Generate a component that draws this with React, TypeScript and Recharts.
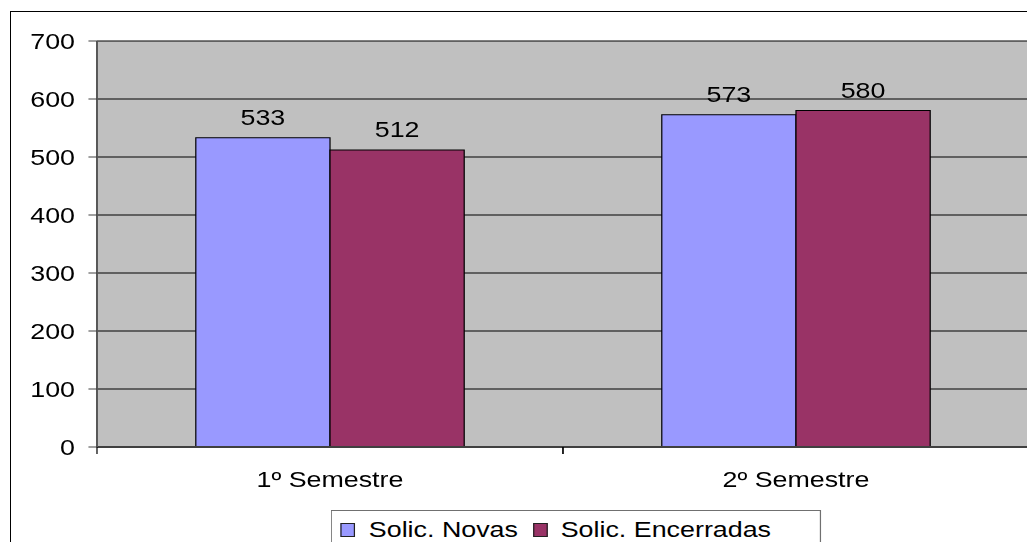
import React from "react"
import { Bar, BarChart, CartesianGrid, LabelList, Legend, XAxis, YAxis } from "recharts"

// values
const semesters = ["1º Semestre", "2º Semestre"]
const solicNovas = [533, 573]
const solicEncerradas = [512, 580]
const yTicks = [0, 100, 200, 300, 400, 500, 600, 700]

const seriesNames = ["Solic. Novas", "Solic. Encerradas"]
const seriesColors = ["#9999FF", "#993366"]

const data = semesters.map((name, i) => ({
  name,
  novas: solicNovas[i],
  encerradas: solicEncerradas[i],
}))

// the original picture is stretched sideways, so the chart is drawn narrower and scaled
const STRETCH = 1.22
const FONT = '"Liberation Sans", Arial, sans-serif'

const CategoryTick = (props: any) => {
  const { x, y, payload } = props
  const half = payload && typeof payload.offset === "number" ? payload.offset : 0
  const top = y - 24
  return (
    <g>
      <line x1={x - half} x2={x - half} y1={top} y2={top + 7} stroke="#000" strokeWidth={1} />
      <line x1={x + half} x2={x + half} y1={top} y2={top + 7} stroke="#000" strokeWidth={1} />
      <text x={x} y={y} dy="0.71em" textAnchor="middle" fill="#000" fontSize={22} fontFamily={FONT}>
        {payload.value}
      </text>
    </g>
  )
}

const LegendBox = () => (
  <div
    style={{
      border: "1px solid #707070",
      padding: "6px 40px 12px 7px",
      display: "flex",
      alignItems: "center",
      lineHeight: "26px",
      fontSize: 22,
      fontFamily: FONT,
      color: "#000",
      background: "#fff",
      whiteSpace: "nowrap",
    }}
  >
    {seriesNames.map((n, i) => (
      <span key={n} style={{ display: "flex", alignItems: "center", marginRight: i === 0 ? 12 : 0 }}>
        <span
          style={{
            display: "inline-block",
            width: 10,
            height: 12,
            background: seriesColors[i],
            border: "1px solid #222",
            marginRight: 11,
          }}
        />
        {n}
      </span>
    ))}
  </div>
)

export default function App() {
  return (
    <div
      style={{
        position: "absolute",
        left: 0,
        top: 0,
        width: 1027,
        height: 542,
        overflow: "hidden",
        background: "#fff",
      }}
    >
      <div
        style={{
          position: "absolute",
          left: 10,
          top: 11,
          width: 1100,
          height: 600,
          border: "1px solid #000",
        }}
      />
      <div
        style={{
          position: "absolute",
          left: 0,
          top: 0,
          width: 860,
          height: 542,
          transform: `scaleX(${STRETCH})`,
          transformOrigin: "0 0",
        }}
      >
        <BarChart
          width={860}
          height={542}
          data={data}
          margin={{ top: 41, right: 16.6, left: 8, bottom: 55 }}
          barGap={0}
          barSize={110}
        >
          <CartesianGrid vertical={false} stroke="#000" fill="#C0C0C0" fillOpacity={1} />
          <XAxis
            dataKey="name"
            height={40}
            tickLine={false}
            tickSize={0}
            tickMargin={24}
            axisLine={{ stroke: "#404040", strokeWidth: 2 }}
            tick={<CategoryTick />}
            interval={0}
          />
          <YAxis
            width={71.5}
            domain={[0, 700]}
            ticks={yTicks}
            interval={0}
            tickSize={7}
            tickMargin={11}
            axisLine={{ stroke: "#555", strokeWidth: 1.6 }}
            tickLine={{ stroke: "#404040" }}
            tick={{ fill: "#000", fontSize: 22, fontFamily: FONT }}
          />
          <Legend
            layout="horizontal"
            verticalAlign="middle"
            align="center"
            wrapperStyle={{ top: 510, left: 271.3, width: "auto", height: "auto" }}
            content={<LegendBox />}
          />
          <Bar dataKey="novas" name={seriesNames[0]} fill={seriesColors[0]} stroke="#000" strokeWidth={1} isAnimationActive={false}>
            <LabelList dataKey="novas" position="top" offset={13} fill="#000" fontSize={22} fontFamily={FONT} />
          </Bar>
          <Bar dataKey="encerradas" name={seriesNames[1]} fill={seriesColors[1]} stroke="#000" strokeWidth={1} isAnimationActive={false}>
            <LabelList dataKey="encerradas" position="top" offset={13} fill="#000" fontSize={22} fontFamily={FONT} />
          </Bar>
        </BarChart>
      </div>
    </div>
  )
}
